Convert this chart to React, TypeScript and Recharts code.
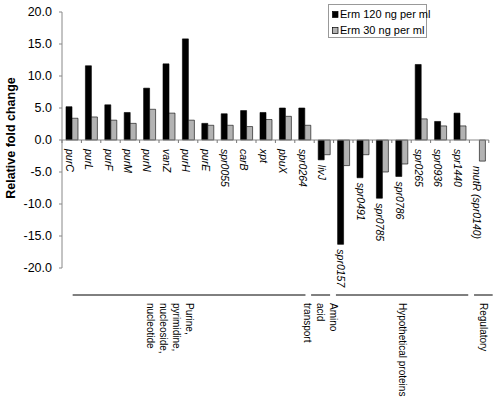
import React from 'react';
import { BarChart, Bar, XAxis, YAxis, ReferenceLine, Label } from 'recharts';

const genes = [
  'purC', 'purL', 'purF', 'purM', 'purN', 'vanZ', 'purH', 'purE', 'spr0055', 'carB', 'xpt',
  'pbuX', 'spr0264', 'livJ', 'spr0157', 'spr0491', 'spr0785', 'spr0786', 'spr0265', 'spr0936',
  'spr1440', 'mutR (spr0140)',
];
const erm120 = [
  5.2, 11.6, 5.5, 4.3, 8.1, 11.9, 15.8, 2.6, 4.1, 4.6, 4.3,
  5.0, 5.0, -3.1, -16.3, -5.9, -9.1, -5.7, 11.8, 2.9,
  4.2, null,
];
const erm30 = [
  3.4, 3.6, 3.1, 2.6, 4.8, 4.2, 3.1, 2.3, 2.3, 2.1, 3.2,
  3.7, 2.3, -2.3, -4.0, -2.3, -5.0, -3.75, 3.3, 2.2,
  2.2, -3.3,
];
const yTicks = [-20, -15, -10, -5, 0, 5, 10, 15, 20];
const seriesNames = ['Erm 120 ng per ml', 'Erm 30 ng per ml'];

// functional groups, spans (in category units)
const groupNames = [
  ['Purine,', 'pyrimidine,', 'nucleoside,', 'nucleotide'],
  ['Amino', 'acid', 'transport'],
  ['Hypothetical proteins'],
  ['Regulatory'],
];
const groupSpans = [
  [0.55, 12.55],
  [12.84, 13.82],
  [14.12, 20.94],
  [21.24, 22.2],
];

const data = genes.map((g, i) => ({ gene: g, erm120: erm120[i], erm30: erm30[i] }));

const W = 497;
const H = 403;
const TOP = 12;
const LEFT = 62;
const RIGHT = 8.2;
const X_AXIS_H = 135;
const PLOT_W = W - LEFT - RIGHT;
const PLOT_H = H - X_AXIS_H - TOP;
const BAND = PLOT_W / genes.length;
const Y_MIN = -20;
const Y_MAX = 20;
const FONT = '"Liberation Sans", Arial, sans-serif';
const COLORS = ['#000', '#b3b3b3'];

const yPix = (v: number) => TOP + ((Y_MAX - v) / (Y_MAX - Y_MIN)) * PLOT_H;
const ZERO_Y = yPix(0);

const CategoryTick = (props: any) => {
  const { x, index, payload } = props;
  const i = index;
  const vals = [erm120[i], erm30[i]].filter((v) => v != null) as number[];
  const low = Math.min(0, ...vals);
  const startY = low < 0 ? Math.max(ZERO_Y + 9, yPix(low) + 5) : ZERO_Y + 9;
  const lx = x - 2;
  return (
    <g>
      <line x1={x - BAND / 2} x2={x - BAND / 2} y1={ZERO_Y} y2={ZERO_Y + 3} stroke="#777" />
      {i === genes.length - 1 && (
        <line x1={x + BAND / 2} x2={x + BAND / 2} y1={ZERO_Y} y2={ZERO_Y + 3} stroke="#777" />
      )}
      <text
        transform={`translate(${lx},${startY}) rotate(90)`}
        textAnchor="start"
        dominantBaseline="central"
        fontStyle="italic"
        fontSize={10.5}
        fontFamily={FONT}
        fill="#000"
      >
        {payload.value}
      </text>
      {i === 0 &&
        groupNames.map((lines, gi) => {
          const [a, b] = groupSpans[gi];
          const x1 = LEFT + a * BAND;
          const x2 = LEFT + b * BAND;
          const mid = (x1 + x2) / 2;
          const first = gi === 0 ? mid : mid + ((lines.length - 1) / 2) * 12.7;
          return (
            <g key={gi}>
              <line x1={x1} x2={x2} y1={295} y2={295} stroke="#000" strokeWidth={1} />
              {lines.map((ln, li) => (
                <text
                  key={li}
                  transform={`translate(${first - li * 12.7},303) rotate(90)`}
                  textAnchor="start"
                  dominantBaseline="central"
                  fontSize={10}
                  fontFamily={FONT}
                  fill="#000"
                >
                  {ln}
                </text>
              ))}
            </g>
          );
        })}
    </g>
  );
};

// legend drawn as an overlay so it doesn't eat into the plot area
const LegendBox = () => (
  <div
    style={{
      position: 'absolute',
      left: 328,
      top: 4,
      width: 99,
      height: 34,
      border: '1px solid #999',
      boxSizing: 'border-box',
      background: '#fff',
      fontFamily: FONT,
      fontSize: 11,
      paddingTop: 1,
      paddingLeft: 3,
      lineHeight: '16px',
    }}
  >
    {seriesNames.map((label, i) => (
      <div key={label} style={{ display: 'flex', alignItems: 'center', height: 16, whiteSpace: 'nowrap' }}>
        <svg width={7} height={7} style={{ flexShrink: 0, marginRight: 1 }}>
          <rect x={0.5} y={0.5} width={5.5} height={6} fill={COLORS[i]} stroke="#000" strokeWidth={0.7} />
        </svg>
        <span>{label}</span>
      </div>
    ))}
  </div>
);

export default function App() {
  return (
    <div style={{ position: 'absolute', left: 0, top: 0, width: W, height: H, background: '#fff' }}>
      <BarChart
        width={W}
        height={H}
        data={data}
        margin={{ top: TOP, right: RIGHT, bottom: 0, left: 0 }}
        barGap={0}
        barSize={6}
      >
        <XAxis
          dataKey="gene"
          height={X_AXIS_H}
          axisLine={false}
          tickLine={false}
          interval={0}
          tick={<CategoryTick />}
        />
        <YAxis
          width={LEFT}
          domain={[Y_MIN, Y_MAX]}
          ticks={yTicks}
          tickFormatter={(v: number) => v.toFixed(1)}
          tick={{ fill: '#000', fontSize: 12.5, fontFamily: FONT }}
          tickSize={3}
          tickMargin={7}
          stroke="#888"
        >
          <Label
            content={() => (
              <text
                transform="translate(11,138) rotate(-90)"
                textAnchor="middle"
                dominantBaseline="central"
                fontWeight="bold"
                fontSize={12.5}
                fontFamily={FONT}
                fill="#000"
              >
                Relative fold change
              </text>
            )}
          />
        </YAxis>
        <ReferenceLine y={0} stroke="#888" />
        <Bar dataKey="erm120" fill={COLORS[0]} stroke="#000" strokeWidth={0.6} isAnimationActive={false} />
        <Bar dataKey="erm30" fill={COLORS[1]} stroke="#000" strokeWidth={0.6} isAnimationActive={false} />
      </BarChart>
      <LegendBox />
    </div>
  );
}
